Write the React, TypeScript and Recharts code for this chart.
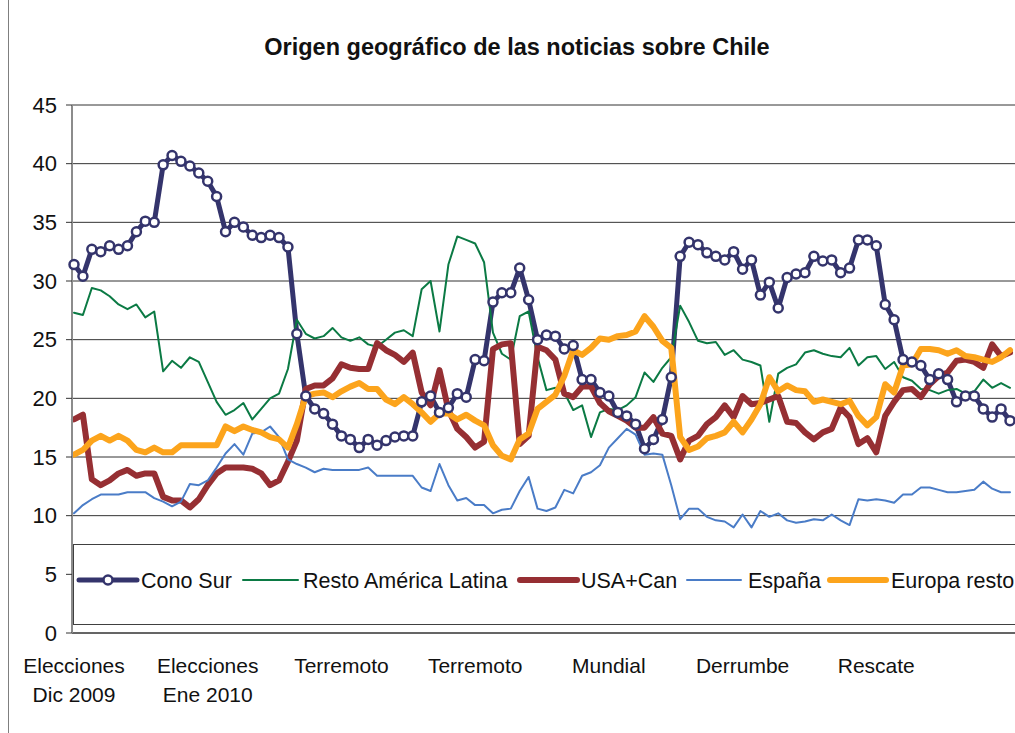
import { CartesianGrid, Line, LineChart, XAxis, YAxis } from "recharts";

const font = "'Liberation Sans', Arial, sans-serif";

// one value every ~3.5 days, Dec 2009 - Nov 2010
const conoSur = [
  31.4, 30.4, 32.7, 32.5, 33.0, 32.7, 33.0, 34.2, 35.1, 35.0,
  39.9, 40.7, 40.2, 39.8, 39.2, 38.5, 37.2, 34.2, 35.0, 34.6,
  33.9, 33.7, 33.9, 33.7, 32.9, 25.5, 20.2, 19.1, 18.7, 17.8,
  16.8, 16.5, 15.8, 16.5, 16.0, 16.4, 16.7, 16.8, 16.8, 19.7,
  20.2, 18.8, 19.2, 20.4, 20.1, 23.3, 23.2, 28.2, 29.0, 29.0,
  31.1, 28.4, 25.0, 25.4, 25.3, 24.2, 24.5, 21.6, 21.6, 20.5,
  20.2, 18.8, 18.5, 17.8, 15.7, 16.5, 18.2, 21.8, 32.1, 33.3,
  33.1, 32.4, 32.1, 31.8, 32.5, 31.0, 31.8, 28.8, 29.9, 27.7,
  30.3, 30.6, 30.7, 32.1, 31.7, 31.8, 30.7, 31.1, 33.5, 33.5,
  33.0, 28.0, 26.7, 23.3, 23.1, 22.8, 21.6, 22.1, 21.6, 19.7,
  20.2, 20.2, 19.1, 18.4, 19.1, 18.1,
];

const restoAmerica = [
  27.3, 27.1, 29.4, 29.2, 28.7, 28.0, 27.6, 28.0, 26.9, 27.4,
  22.3, 23.2, 22.6, 23.5, 23.1, 21.4, 19.7, 18.6, 19.0, 19.6,
  18.2, 19.1, 20.0, 20.4, 22.5, 26.7, 25.5, 25.1, 25.3, 26.0,
  25.2, 24.9, 25.2, 24.6, 24.4, 25.0, 25.6, 25.8, 25.3, 29.3,
  30.0, 25.7, 31.4, 33.8, 33.5, 33.2, 31.6, 25.6, 23.8, 23.3,
  27.0, 27.4, 23.5, 20.7, 20.9, 20.5, 19.0, 19.4, 16.7, 18.8,
  19.1, 19.0, 19.4, 20.1, 22.2, 21.4, 22.6, 23.5, 27.9, 26.5,
  24.9, 24.7, 24.8, 23.7, 24.1, 23.3, 23.1, 22.8, 18.0, 22.1,
  22.6, 22.9, 23.9, 24.1, 23.8, 23.6, 23.5, 24.3, 22.8, 23.5,
  23.6, 22.5, 23.1, 21.8, 21.5, 20.8, 20.7, 20.4, 20.7, 20.8,
  20.4, 20.6, 21.6, 20.9, 21.3, 20.9,
];

const usaCan = [
  18.2, 18.6, 13.1, 12.6, 13.0, 13.6, 13.9, 13.4, 13.6, 13.6,
  11.6, 11.3, 11.3, 10.7, 11.4, 12.6, 13.6, 14.1, 14.1, 14.1,
  14.0, 13.6, 12.6, 13.0, 14.6, 16.4, 20.8, 21.1, 21.1, 21.7,
  22.9, 22.6, 22.5, 22.5, 24.7, 24.1, 23.7, 23.1, 23.9, 20.5,
  19.4, 22.4, 19.0, 17.4, 16.7, 15.8, 16.3, 24.2, 24.6, 24.7,
  16.1, 16.8, 24.4, 24.1, 23.3, 20.4, 20.1, 21.0, 21.0, 19.6,
  18.9, 18.5, 18.1, 17.5, 17.5, 18.4, 17.0, 16.8, 14.8, 16.4,
  16.8, 17.8, 18.4, 19.4, 18.4, 20.2, 19.5, 19.6, 19.9, 20.2,
  18.0, 17.9, 17.1, 16.5, 17.1, 17.4, 19.2, 18.4, 16.1, 16.6,
  15.4, 18.5, 19.7, 20.7, 20.8, 20.1, 21.2, 21.9, 22.2, 23.2,
  23.3, 23.1, 22.6, 24.6, 23.6, 23.9,
];

const espana = [
  10.2, 10.9, 11.4, 11.8, 11.8, 11.8, 12.0, 12.0, 12.0, 11.5,
  11.2, 10.8, 11.2, 12.7, 12.6, 13.0, 14.1, 15.3, 16.1, 15.2,
  17.0, 17.1, 17.6, 16.7, 14.8, 14.4, 14.1, 13.7, 14.0, 13.9,
  13.9, 13.9, 13.9, 14.1, 13.4, 13.4, 13.4, 13.4, 13.4, 12.4,
  12.1, 14.4, 12.6, 11.3, 11.5, 10.9, 10.9, 10.2, 10.5, 10.6,
  12.1, 13.3, 10.6, 10.4, 10.7, 12.2, 11.9, 13.4, 13.7, 14.3,
  15.8, 16.6, 17.4, 16.9, 15.2, 15.3, 15.2, 12.6, 9.7, 10.6,
  10.6, 9.9, 9.6, 9.5, 9.0, 10.1, 9.0, 10.4, 9.9, 10.2,
  9.6, 9.4, 9.5, 9.7, 9.6, 10.1, 9.6, 9.2, 11.4, 11.3,
  11.4, 11.3, 11.1, 11.8, 11.8, 12.4, 12.4, 12.2, 12.0, 12.0,
  12.1, 12.2, 12.9, 12.3, 12.0, 12.0,
];

const europaResto = [
  15.2, 15.6, 16.4, 16.8, 16.4, 16.8, 16.4, 15.6, 15.4, 15.8,
  15.4, 15.4, 16.0, 16.0, 16.0, 16.0, 16.0, 17.6, 17.2, 17.6,
  17.3, 17.1, 16.7, 16.5, 15.8, 17.8, 20.2, 20.4, 20.5, 20.1,
  20.6, 21.0, 21.3, 20.8, 20.8, 19.9, 19.5, 20.1, 19.5, 18.8,
  18.0, 18.7, 18.7, 18.2, 18.6, 18.1, 17.7, 16.0, 15.1, 14.8,
  16.5, 17.0, 19.1, 19.7, 20.3, 21.9, 24.1, 23.7, 24.3, 25.1,
  25.0, 25.3, 25.4, 25.7, 27.0, 26.1, 24.9, 24.3, 16.7, 15.6,
  15.9, 16.6, 16.8, 17.1, 18.0, 17.1, 18.2, 19.5, 21.8, 20.6,
  21.1, 20.7, 20.6, 19.7, 19.9, 19.7, 19.5, 19.8, 18.5, 17.7,
  18.4, 21.2, 20.5, 22.8, 22.9, 24.2, 24.2, 24.1, 23.8, 24.1,
  23.6, 23.5, 23.3, 23.1, 23.5, 24.1,
];

// events marked under the axis, one every 15 points
const eventLabels = [
  ["Elecciones", "Dic 2009"],
  ["Elecciones", "Ene 2010"],
  ["Terremoto"],
  ["Terremoto"],
  ["Mundial"],
  ["Derrumbe"],
  ["Rescate"],
];
const eventStep = 15;

const yTicks = [0, 5, 10, 15, 20, 25, 30, 35, 40, 45];

const navy = "#34346c";

const series = [
  { key: "cono", name: "Cono Sur", values: conoSur, color: navy, width: 5 },
  { key: "resto", name: "Resto América Latina", values: restoAmerica, color: "#0b7a44", width: 2 },
  { key: "usa", name: "USA+Can", values: usaCan, color: "#962f33", width: 6 },
  { key: "esp", name: "España", values: espana, color: "#4a7cc7", width: 2 },
  { key: "eur", name: "Europa resto", values: europaResto, color: "#fca41c", width: 6 },
];

const data = conoSur.map((_, i) => {
  const row: Record<string, number> = { i };
  series.forEach((s) => {
    row[s.key] = s.values[i];
  });
  return row;
});

const marker = { r: 4.5, fill: "#fff", stroke: navy, strokeWidth: 2.5 };

function EventTick(props: any) {
  const { x, payload } = props;
  const lines = eventLabels[payload.value / eventStep];
  if (!lines) return <g />;
  return (
    <text textAnchor="middle" fontSize={21} fill="#111" fontFamily={font}>
      {lines.map((t, k) => (
        <tspan key={k} x={x} y={673 + k * 29}>
          {t}
        </tspan>
      ))}
    </text>
  );
}

// legend sits inside the plot, in a framed white box
const legendSlots = [
  { x1: 79, x2: 137, tx: 141 },
  { x1: 243, x2: 298, tx: 303 },
  { x1: 520, x2: 577, tx: 581 },
  { x1: 687, x2: 741, tx: 748 },
  { x1: 830, x2: 886, tx: 891 },
];

function Legend() {
  return (
    <svg
      width={1015}
      height={733}
      style={{ position: "absolute", left: 0, top: 0, pointerEvents: "none" }}
    >
      <rect x={73.5} y={544.5} width={1000} height={80} fill="#fff" stroke="#404040" />
      {series.map((s, k) => {
        const slot = legendSlots[k];
        return (
          <g key={s.key}>
            <line
              x1={slot.x1}
              x2={slot.x2}
              y1={580}
              y2={580}
              stroke={s.color}
              strokeWidth={s.width}
              strokeLinecap="round"
            />
            {s.key === "cono" && (
              <circle cx={(slot.x1 + slot.x2) / 2} cy={580} {...marker} />
            )}
            <text x={slot.tx} y={588} fontSize={21.5} fill="#111" fontFamily={font}>
              {s.name}
            </text>
          </g>
        );
      })}
    </svg>
  );
}

export default function App() {
  return (
    <div
      style={{
        position: "absolute",
        left: 0,
        top: 0,
        width: 1015,
        height: 733,
        overflow: "hidden",
        background: "#fff",
        fontFamily: font,
      }}
    >
      <div
        style={{
          position: "absolute",
          left: 8,
          top: 0,
          width: 1,
          height: 733,
          background: "#7f7f7f",
        }}
      />
      <div
        style={{
          position: "absolute",
          left: 0,
          top: 35,
          width: 1034,
          textAlign: "center",
          fontSize: 23.5,
          lineHeight: "24px",
          fontWeight: "bold",
          color: "#111",
        }}
      >
        Origen geográfico de las noticias sobre Chile
      </div>
      <LineChart
        width={1040}
        height={733}
        data={data}
        margin={{ top: 105, right: 15, bottom: 10, left: 0 }}
        style={{ position: "absolute", left: 0, top: 0 }}
      >
        <CartesianGrid horizontal vertical={false} stroke="#333" />
        <XAxis
          dataKey="i"
          type="category"
          scale="point"
          padding={{ left: 2, right: 15 }}
          height={90}
          interval={eventStep - 1}
          tickLine={false}
          axisLine={{ stroke: "#333" }}
          tick={<EventTick />}
        />
        <YAxis
          type="number"
          domain={[0, 45]}
          ticks={yTicks}
          interval={0}
          width={72}
          tickSize={6}
          tickMargin={9}
          axisLine={{ stroke: "#8c8c8c", strokeWidth: 2 }}
          tickLine={{ stroke: "#333" }}
          tick={{ fontSize: 22, fill: "#111", fontFamily: font }}
        />
        {series.map((s) => (
          <Line
            key={s.key}
            type="linear"
            dataKey={s.key}
            name={s.name}
            stroke={s.color}
            strokeWidth={s.width}
            strokeLinejoin="round"
            strokeLinecap="round"
            dot={s.key === "cono" ? marker : false}
            activeDot={false}
            isAnimationActive={false}
          />
        ))}
      </LineChart>
      <Legend />
    </div>
  );
}
